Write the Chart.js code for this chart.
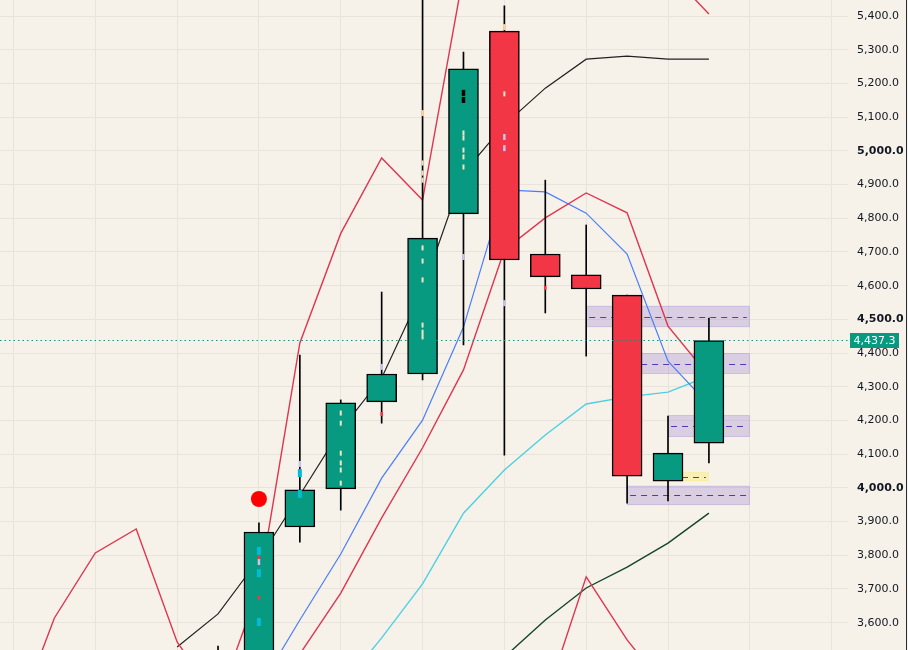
<!DOCTYPE html>
<html>
<head>
<meta charset="utf-8">
<script src="https://cdn.jsdelivr.net/npm/chart.js@4.4.1/dist/chart.umd.min.js"></script>
<style>
    html, body { margin: 0; padding: 0; background: #f6f2ea; }
    #wrap { width: 908px; height: 650px; position: relative; }
</style>
</head>
<body>
<div id="wrap"><canvas id="chart"></canvas></div>
<script>
// --- DATA (bar index -> price) ---
const candleIdx = [0, 1, 2, 3, 4, 5, 6, 7, 8, 9, 10, 11, 12];
const openVals  = [3490, 3470, 3884, 3997, 4255, 4338, 4813, 5355, 4694, 4632, 4572, 4020, 4133];
const highVals  = [3531, 3896, 4394, 4261, 4581, 5480, 5293, 5430, 4913, 4780, 4572, 4213, 4504];
const lowVals   = [3400, 3440, 3839, 3934, 4192, 4320, 4424, 4097, 4519, 4391, 3955, 3961, 4074];
const closeVals = [3460, 3869, 3994, 4252, 4338, 4741, 5243, 4676, 4626, 4590, 4035, 4103, 4437.3];

// overlay lines, index -5 .. 12
const lineIdx    = [-5, -4, -3, -2, -1, 0, 1, 2, 3, 4, 5, 6, 7, 8, 9, 10, 11, 12];
const redUpper   = [3293, 3614, 3807, 3878, 3543, 3368, 3703, 4430, 4755, 4979, 4854, 5525, 5620, 5650, 5640, 5600, 5533, 5406];
const redLower   = [null, null, null, null, null, null, null, 3507, 3688, 3911, 4119, 4350, 4706, 4801, 4875, 4816, 4480, 4332];
const blueLine   = [null, null, null, null, null, null, 3406, 3608, 3804, 4029, 4201, 4477, 4884, 4878, 4815, 4694, 4376, 4246];
const cyanLine   = [null, null, null, null, null, null, null, null, 3406, 3555, 3715, 3925, 4053, 4157, 4249, 4270, 4284, 4332];
const blackLine  = [null, null, null, null, 3528, 3626, 3789, 3979, 4172, 4326, 4587, 4934, 5077, 5186, 5272, 5281, 5272, 5272];
const greenLine  = [null, null, null, null, null, null, null, null, null, null, null, null, 3498, 3608, 3703, 3765, 3836, 3925];
const redBottom  = [null, null, null, null, null, null, null, null, null, null, null, null, null, 3369, 3736, 3549, 3397, null];

// zones: start idx, end idx, top, bottom, mid
const zoneStart  = [9, 10, 11, 10];
const zoneEnd    = [13, 13, 13, 13];
const zoneTop    = [4540, 4400, 4216, 4006];
const zoneBottom = [4477, 4338, 4151, 3949];
const zoneMid    = [4507, 4367, 4184, 3979];
const smallZone  = { start: 11, end: 12, top: 4047, bottom: 4020, mid: 4032 };

const lastPrice = 4437.3;
const signalDot = [[1, 3967]];

// tiny marks inside the candles [idx, price]
const cyanMarks  = [[1, 3813], [1, 3747], [1, 3602], [2, 4044], [2, 3982]];
const paleMarks  = [[3, 4222], [3, 4192], [3, 4103], [3, 4074], [3, 4053], [3, 4014],
                    [5, 4712], [5, 4673], [5, 4617], [5, 4483], [5, 4462], [5, 4448],
                    [5, 4964], [5, 4934], [5, 4913],
                    [6, 5053], [6, 5038], [6, 5002], [6, 4982], [6, 4952], [7, 5169]];
const lilacMarks = [[1, 3780], [2, 4071], [4, 4359], [6, 4685], [7, 5041], [7, 5008], [7, 4548]];
const orangeMarks = [[5, 5112], [7, 5367]];
const redMarks   = [[1, 3795], [1, 3673], [4, 4219], [8, 4593]];
const blackMarks = [[6, 5172], [6, 5151]];

// --- helpers ---
const UP = '#089981', DOWN = '#f23645';
const xyLine = vals => lineIdx.map((x, i) => ({ x: x, y: vals[i] }));
const xyPts = arr => arr.map(p => ({ x: p[0], y: p[1] }));
const fmt = v => v.toLocaleString('en-US', { minimumFractionDigits: 1, maximumFractionDigits: 1 });

function lineSet(vals, color, width) {
    return { type: 'line', data: xyLine(vals), borderColor: color, borderWidth: width,
             pointRadius: 0, tension: 0, spanGaps: false, order: 5 };
}
function markSet(arr, color, len, width) {
    return { type: 'scatter', data: xyPts(arr), pointStyle: 'line', rotation: 90,
             radius: len, borderColor: color, borderWidth: width, order: -1 };
}

// zones + last price line, drawn with the chart scales
const overlayPlugin = {
    id: 'overlay',
    beforeDatasetsDraw(chart) {
        const { ctx, scales: { x, y } } = chart;
        ctx.save();
        const box = (s, e, t, b, m, fill, edge) => {
            const x0 = x.getPixelForValue(s), x1 = x.getPixelForValue(e);
            const y0 = y.getPixelForValue(t), y1 = y.getPixelForValue(b);
            ctx.fillStyle = fill;
            ctx.fillRect(x0, y0, x1 - x0, y1 - y0);
            ctx.strokeStyle = edge; ctx.lineWidth = 1;
            ctx.strokeRect(x0 + 0.5, y0 + 0.5, x1 - x0 - 1, y1 - y0 - 1);
            const ym = Math.round(y.getPixelForValue(m)) + 0.5;
            ctx.setLineDash([6, 5]);
            ctx.strokeStyle = '#5e35b1';
            ctx.beginPath(); ctx.moveTo(x0 + 3, ym); ctx.lineTo(x1 - 3, ym); ctx.stroke();
            ctx.setLineDash([]);
        };
        zoneStart.forEach((s, i) => box(s, zoneEnd[i], zoneTop[i], zoneBottom[i], zoneMid[i],
            'rgba(149,117,205,0.28)', 'rgba(149,117,205,0.22)'));
        box(smallZone.start, smallZone.end, smallZone.top, smallZone.bottom, smallZone.mid,
            'rgba(255,235,59,0.28)', 'rgba(255,235,59,0.2)');
        ctx.restore();
    },
    afterDraw(chart) {
        const { ctx, chartArea: a, scales: { y } } = chart;
        const py = Math.round(y.getPixelForValue(lastPrice)) + 0.5;
        ctx.save();
        ctx.strokeStyle = UP; ctx.lineWidth = 1; ctx.setLineDash([1.5, 3]);
        ctx.beginPath(); ctx.moveTo(a.left, py); ctx.lineTo(a.right, py); ctx.stroke();
        ctx.setLineDash([]);
        // price tag on the axis
        ctx.fillStyle = UP;
        ctx.fillRect(a.right + 2, py - 7.5, 49, 15);
        ctx.fillStyle = '#ffffff';
        ctx.font = '11px "DejaVu Sans"';
        ctx.textBaseline = 'middle';
        ctx.textAlign = 'center';
        ctx.fillText(fmt(lastPrice), a.right + 26.5, py + 0.5);
        ctx.fillStyle = '#2a2e39';
        ctx.fillRect(906, 0, 1, chart.height);
        ctx.restore();
    }
};

const bodies = candleIdx.map((x, i) => ({ x: x, y: [openVals[i], closeVals[i]] }));
const wicks = candleIdx.map((x, i) => ({ x: x, y: [lowVals[i], highVals[i]] }));
const bodyColors = candleIdx.map((x, i) => closeVals[i] >= openVals[i] ? UP : DOWN);

new Chart(document.getElementById('chart'), {
    type: 'bar',
    data: {
        datasets: [
            { type: 'bar', data: bodies, backgroundColor: bodyColors, borderColor: '#000',
              borderWidth: 1.5, borderSkipped: false, barThickness: 30, grouped: false, order: 1 },
            { type: 'bar', data: wicks, backgroundColor: '#000', barThickness: 1,
              grouped: false, order: 2 },
            lineSet(redUpper, '#e0354f', 1.4),
            lineSet(redLower, '#e0354f', 1.4),
            lineSet(redBottom, '#e0354f', 1.4),
            lineSet(blueLine, '#4a7dfc', 1.2),
            lineSet(cyanLine, '#4dd0e1', 1.4),
            lineSet(blackLine, '#222222', 1.2),
            lineSet(greenLine, '#12452a', 1.4),
            markSet(cyanMarks, '#00bcd4', 4, 4),
            markSet(paleMarks, '#efe6c4', 2.5, 2),
            markSet(lilacMarks, '#c9c2ea', 3, 2.5),
            markSet(orangeMarks, '#ffd59e', 3, 2.5),
            markSet(redMarks, '#f23645', 2, 2.5),
            markSet(blackMarks, '#000000', 3, 3.5),
            { type: 'scatter', data: xyPts(signalDot), pointStyle: 'circle', radius: 8,
              backgroundColor: '#ff0000', borderWidth: 0, order: -2 }
        ]
    },
    options: {
        responsive: true, maintainAspectRatio: false, animation: false,
        layout: { padding: 0, autoPadding: false },
        plugins: { legend: { display: false }, tooltip: { enabled: false } },
        scales: {
            x: {
                type: 'linear', min: -5.33, max: 15.4, offset: false,
                afterBuildTicks: s => { s.ticks = [-5, -3, -1, 1, 3, 5, 7, 9, 11, 13, 15].map(v => ({ value: v })); },
                afterFit: s => { s.height = 0; s.paddingLeft = 0; s.paddingRight = 0; },
                ticks: { display: false },
                grid: { color: '#e8e4dc', drawTicks: false, offset: false },
                border: { display: false }
            },
            y: {
                position: 'right', min: 3519, max: 5447.5,
                afterBuildTicks: s => { s.ticks = s.ticks.filter(t => t.value % 100 === 0); },
                afterFit: s => { s.width = 60; s.paddingTop = 0; s.paddingBottom = 0; },
                ticks: {
                    stepSize: 100, padding: 9, color: '#131722',
                    callback: v => fmt(v),
                    font: c => ({ family: '"DejaVu Sans"', size: 11,
                                  weight: c.tick && c.tick.value % 500 === 0 ? 'bold' : 'normal' })
                },
                grid: { color: '#e8e4dc', drawTicks: false },
                border: { display: false }
            }
        }
    },
    plugins: [overlayPlugin]
});
</script>
</body>
</html>
